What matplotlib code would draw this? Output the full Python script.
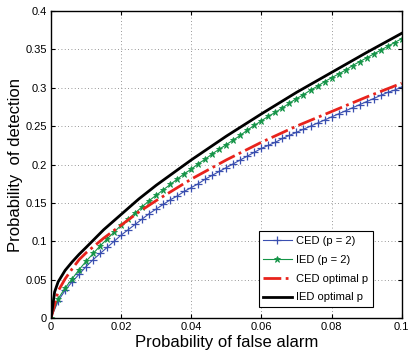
import numpy as np
import matplotlib
matplotlib.use('Agg')
from matplotlib import pyplot as plt

plt.rcParams['font.family'] = ['Liberation Sans', 'DejaVu Sans']

# markers every 0.002 for the p = 2 curves
pf_mark = np.arange(51) * 0.002

ced_p2 = [0, .022, .036, .047, .057, .067, .076, .084, .092, .100,
          .108, .115, .122, .129, .136, .142, .148, .154, .159, .165,
          .170, .175, .181, .186, .191, .196, .201, .206, .211, .216,
          .221, .225, .229, .234, .238, .242, .246, .250, .254, .258,
          .262, .266, .270, .274, .278, .282, .286, .290, .294, .297,
          .301]

ied_p2 = [0, .025, .039, .051, .063, .074, .084, .094, .103, .112,
          .121, .129, .137, .145, .153, .160, .167, .174, .181, .188,
          .194, .201, .207, .214, .220, .226, .232, .238, .245, .251,
          .257, .263, .268, .274, .280, .286, .291, .297, .302, .308,
          .313, .318, .323, .329, .334, .339, .344, .349, .354, .359,
          .364]

pf_ced_opt = [0, .002, .004, .006, .008, .01, .015, .02, .025, .03,
              .04, .05, .06, .07, .08, .09, .1]
ced_opt = [0, .035, .051, .064, .076, .085, .104, .121, .138, .153,
           .181, .206, .229, .250, .269, .288, .306]

pf_ied_opt = [0, .001, .002, .004, .006, .008, .01, .015, .02, .025,
              .03, .04, .05, .06, .07, .08, .09, .1]
ied_opt = [0, .034, .047, .062, .073, .083, .092, .115, .135, .155,
           .173, .206, .237, .266, .294, .320, .346, .371]

labels = ['CED (p = 2)', 'IED (p = 2)', 'CED optimal p', 'IED optimal p']

fig = plt.figure(figsize=(4.09, 3.58), dpi=100)
ax = fig.add_axes([0.125, 0.112, 0.857, 0.857])

ax.plot(pf_mark, ced_p2, color='#3a4fb0', lw=0.8, marker='+', ms=6,
        mew=0.9, label=labels[0])
ax.plot(pf_mark, ied_p2, color='#149447', lw=0.8, marker='*', ms=5,
        mew=0.6, label=labels[1])
ax.plot(pf_ced_opt, ced_opt, color='#e8231c', lw=2, ls='-.', label=labels[2])
ax.plot(pf_ied_opt, ied_opt, color='black', lw=2, label=labels[3])

ax.set_xlim(0, 0.1)
ax.set_ylim(0, 0.4)
ax.set_xticks([0, .02, .04, .06, .08, .1])
ax.set_xticklabels(['0', '0.02', '0.04', '0.06', '0.08', '0.1'])
ax.set_yticks([0, .05, .1, .15, .2, .25, .3, .35, .4])
ax.set_yticklabels(['0', '0.05', '0.1', '0.15', '0.2', '0.25', '0.3', '0.35', '0.4'])
ax.tick_params(direction='in', top=True, right=True, labelsize=8, length=3, pad=3)
ax.grid(True, ls=(0, (1, 3)), color='#777777', lw=0.6)
for s in ax.spines.values():
    s.set_linewidth(1.0)

ax.set_xlabel('Probability of false alarm', fontsize=12, labelpad=2)
ax.set_ylabel('Probability  of detection', fontsize=12, labelpad=2)

leg = ax.legend(loc='lower right', bbox_to_anchor=(0.918, 0.036), borderaxespad=0,
                fontsize=8, fancybox=False, framealpha=1, edgecolor='black',
                handlelength=2.6, labelspacing=0.8, handletextpad=0.4)
leg.get_frame().set_linewidth(0.8)

fig.savefig('out.png', dpi=100)
